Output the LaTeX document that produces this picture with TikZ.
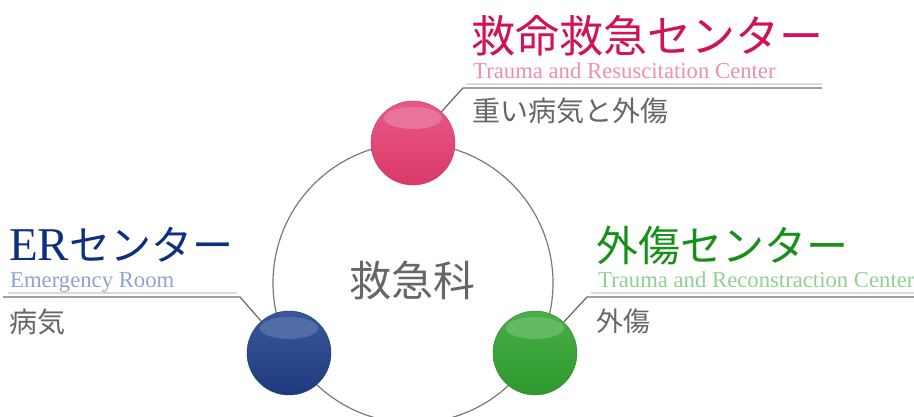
\documentclass[tikz,border=0pt]{standalone}
\usepackage{fontspec}
\setmainfont{Liberation Serif}
\newfontfamily\jp{Noto Sans CJK JP}
\definecolor{ttpink}{HTML}{D3105A}
\definecolor{subpink}{HTML}{F08EB0}
\definecolor{ttblue}{HTML}{0D2F80}
\definecolor{subblue}{HTML}{8FA3CF}
\definecolor{ttgreen}{HTML}{17901A}
\definecolor{subgreen}{HTML}{92D092}
\definecolor{bodygray}{HTML}{666666}
\definecolor{ringgray}{HTML}{7A7A7A}
\definecolor{linegray}{HTML}{6E6E6E}
\definecolor{shadegray}{HTML}{DADADA}
\definecolor{pinkT}{HTML}{E65A88}
\definecolor{pinkB}{HTML}{DC386A}
\definecolor{pinkH}{HTML}{EA7499}
\definecolor{blueT}{HTML}{3A5899}
\definecolor{blueB}{HTML}{1E3A7E}
\definecolor{blueH}{HTML}{526DA6}
\definecolor{greenT}{HTML}{4AAE4A}
\definecolor{greenB}{HTML}{2E982E}
\definecolor{greenH}{HTML}{63BA63}
\tikzset{
  ballnode/.style n args={3}{circle, minimum size=84pt, inner sep=0pt,
    top color=#1, bottom color=#2, draw=#2!90!black, line width=0.4pt,
    path picture={
      \fill[#3] ([yshift=-17pt]path picture bounding box.north) ellipse [x radius=29pt, y radius=11pt];
    }},
  conn/.style={draw=linegray, line width=1.3pt},
  shadowline/.style={draw=shadegray, line width=2pt},
  titlejp/.style={inner sep=0pt, anchor=west},
  subtitle/.style={inner sep=0pt, anchor=base west, font=\fontsize{22.7}{24}\selectfont},
  bodytext/.style={inner sep=0pt, anchor=west, text=bodygray},
}
\begin{document}
\begin{tikzpicture}[x=1pt,y=-1pt]
\clip (0,0) rectangle (914,416);
\fill[white] (0,0) rectangle (914,416);
% ring
\node[circle, draw=ringgray, line width=1.2pt, minimum size=280pt, inner sep=0pt] (ring) at (413,283) {};
\node[inner sep=0pt, text=bodygray, font=\jp\fontsize{42}{42}\selectfont] (dept) at (412,281) {救急科};
% balls
\node[ballnode={pinkT}{pinkB}{pinkH}] (pink) at (413,143) {};
\node[ballnode={blueT}{blueB}{blueH}] (blue) at (289,353) {};
\node[ballnode={greenT}{greenB}{greenH}] (green) at (535,353) {};
% connector coordinates
\coordinate (pk1) at (463,88);
\coordinate (pk2) at (822,88);
\coordinate (pk3) at (466,83.5);
\coordinate (pk4) at (822,83.5);
\coordinate (bl1) at (240,297);
\coordinate (bl2) at (3,297);
\coordinate (bl3) at (237,292.5);
\coordinate (bl4) at (8,292.5);
\coordinate (gr1) at (587,297);
\coordinate (gr2) at (914,297);
\coordinate (gr3) at (591,292.5);
\coordinate (gr4) at (914,292.5);
\draw[shadowline] (pk3) -- (pk4);
\draw[shadowline] (bl3) -- (bl4);
\draw[shadowline] (gr3) -- (gr4);
\draw[conn] (pink) -- (pk1) -- (pk2);
\draw[conn] (blue) -- (bl1) -- (bl2);
\draw[conn] (green) -- (gr1) -- (gr2);
% texts: trauma & resuscitation
\node[titlejp, text=ttpink, font=\jp\fontsize{44}{44}\selectfont] (t1) at (471,36) {救命救急センター};
\node[subtitle, text=subpink] (s1) at (473,78) {Trauma and Resuscitation Center};
\node[bodytext, font=\jp\fontsize{28}{28}\selectfont] (b1) at (472,110.5) {重い病気と外傷};
% ER
\node[titlejp, text=ttblue] (t2) at (9,245) {{\fontsize{47}{47}\selectfont ER}{\jp\fontsize{41}{41}\selectfont センター}};
\node[subtitle, text=subblue] (s2) at (10,287) {Emergency Room};
\node[bodytext, font=\jp\fontsize{28}{28}\selectfont] (b2) at (9,321.5) {病気};
% trauma & reconstruction
\node[titlejp, text=ttgreen, font=\jp\fontsize{42}{42}\selectfont] (t3) at (596,246) {外傷センター};
\node[subtitle, text=subgreen] (s3) at (598,287) {Trauma and Reconstraction Center};
\node[bodytext, font=\jp\fontsize{27}{27}\selectfont] (b3) at (596,321) {外傷};
\end{tikzpicture}
\end{document}
